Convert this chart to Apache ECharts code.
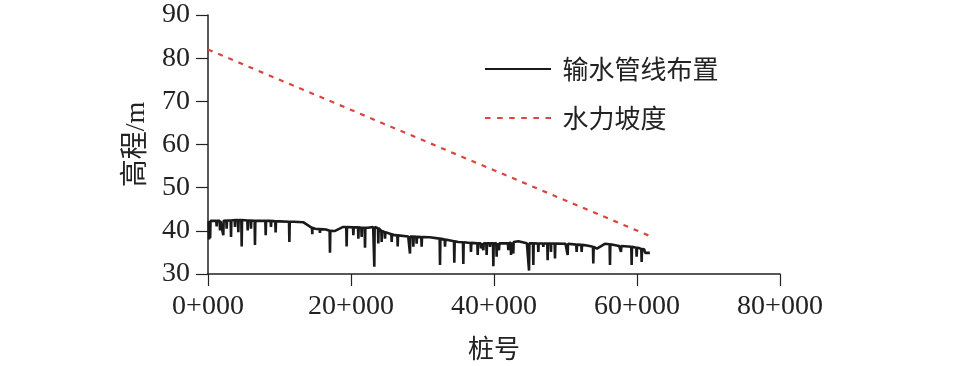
<!DOCTYPE html>
<html>
<head>
<meta charset="utf-8">
<script src="https://cdn.jsdelivr.net/npm/echarts@6/dist/echarts.min.js"></script>
<style>
html,body{margin:0;padding:0;background:#fff;}
#main{width:957px;height:366px;}
</style>
</head>
<body>
<div id="main"></div>
<script>
// Pipeline baseline vertices (station in m, elevation in m)
var baseStation = [100, 2000, 4200, 7000, 10000, 12000, 13300, 14600, 15000, 16500, 17700, 18900, 22400, 23100, 24500, 26100, 28000, 31000, 32400, 35000, 38000, 42000, 43400, 44600, 48000, 50000, 51500, 53000, 54400, 55500, 57500, 59200, 60300, 61000, 61150, 61800];
var baseElev    = [42.3, 42.3, 42.5, 42.3, 42.2, 42.1, 42.0, 40.7, 40.5, 40.3, 39.95, 40.9, 40.7, 40.9, 40.0, 39.0, 38.7, 38.5, 38.2, 37.4, 37.1, 37.1, 37.6, 37.1, 37.05, 37.0, 36.8, 36.6, 35.9, 37.0, 36.5, 36.3, 36.0, 35.7, 34.9, 34.9];
// Downward spikes: station, elevation at top, elevation at bottom
var spikeStation = [150, 300, 1210, 1680, 2140, 2610, 3220, 3780, 4240, 4710, 5550, 6010, 6570, 8070, 8810, 9460, 11380, 14590, 15660, 17060, 19390, 20330, 21030, 21490, 21960, 23260, 23820, 24290, 24760, 25690, 26530, 28250, 28720, 29180, 29880, 32450, 33150, 34450, 35710, 36780, 37720, 38180, 38510, 38970, 39440, 39910, 40370, 40700, 42000, 42380, 42700, 44900, 45500, 46200, 46900, 47500, 47970, 48530, 50300, 51560, 52260, 53890, 56220, 57760, 59250, 59950, 60650];
var spikeTop = [42.3, 42.3, 42.3, 42.3, 42.3, 42.4, 42.4, 42.5, 42.5, 42.5, 42.4, 42.4, 42.3, 42.3, 42.3, 42.2, 42.1, 40.7, 40.4, 40.0, 40.9, 40.8, 40.8, 40.7, 40.7, 40.9, 40.6, 40.0, 39.7, 39.2, 38.95, 38.7, 38.65, 38.6, 38.55, 38.2, 38.0, 37.6, 37.35, 37.2, 37.1, 37.1, 37.1, 37.1, 37.1, 37.1, 37.1, 37.1, 37.1, 37.3, 37.4, 37.1, 37.1, 37.05, 37.05, 37.05, 37.05, 37.05, 37.0, 36.8, 36.75, 36.3, 36.9, 36.5, 36.3, 36.1, 35.8];
var spikeLow = [38.0, 38.3, 41.0, 40.1, 39.0, 40.5, 38.6, 40.9, 39.7, 36.4, 40.1, 40.5, 36.7, 39.0, 40.9, 39.6, 37.4, 39.2, 39.5, 34.9, 36.4, 39.0, 38.2, 38.6, 36.1, 31.7, 37.1, 37.4, 38.2, 37.4, 36.4, 34.75, 36.3, 37.05, 36.3, 32.1, 36.3, 32.6, 32.3, 35.1, 34.4, 35.9, 35.5, 34.4, 36.3, 31.8, 34.0, 35.5, 35.5, 34.4, 34.75, 30.8, 32.1, 35.1, 36.3, 33.2, 35.1, 33.6, 34.4, 35.1, 35.1, 32.45, 32.1, 35.1, 32.1, 34.0, 32.8];
// Hydraulic gradient line
var gradeStation = [0, 61800];
var gradeElev = [82.0, 38.8];
// Axis ticks
var xTicks = [0, 20000, 40000, 60000, 80000];
var yTicks = [30, 40, 50, 60, 70, 80, 90];

var pipe = [];
baseStation.forEach(function(s, i){ pipe.push([s, baseElev[i]]); });
spikeStation.forEach(function(s, i){
  pipe.push([s - 50, spikeTop[i]]);
  pipe.push([s, spikeLow[i]]);
  pipe.push([s + 50, spikeTop[i]]);
});
pipe.sort(function(a, b){ return a[0] - b[0]; });
var grade = gradeStation.map(function(s, i){ return [s, gradeElev[i]]; });

var FONT = 'Liberation Serif';
var CJK = 'Noto Sans CJK SC';
var MIX = '"Liberation Serif", "Noto Sans CJK SC"';
var solidIcon = 'path://M0,0H60V2H0Z';
var dotIcon = 'path://M0,0H5V2H0Z M11,0H16V2H11Z M22,0H27V2H22Z M33,0H38V2H33Z M44,0H49V2H44Z M55,0H60V2H55Z';

var chart = echarts.init(document.getElementById('main'), null, {renderer: 'canvas'});
chart.setOption({
  animation: false,
  backgroundColor: '#fff',
  grid: {left: 208, right: 177, top: 15, bottom: 90},
  legend: {
    orient: 'vertical', left: 480, top: 50,
    itemWidth: 67, itemHeight: 2.2, itemGap: 21,
    textStyle: {fontFamily: CJK, fontSize: 26, color: '#222', lineHeight: 28, padding: [0, 0, 0, 6]},
    data: [
      {name: '输水管线布置', icon: solidIcon},
      {name: '水力坡度', icon: dotIcon}
    ]
  },
  xAxis: {
    type: 'value', min: xTicks[0], max: xTicks[xTicks.length - 1], interval: xTicks[1] - xTicks[0],
    name: '桩号', nameLocation: 'middle', nameGap: 61,
    nameTextStyle: {fontFamily: CJK, fontSize: 26, color: '#222'},
    axisLine: {lineStyle: {color: '#222', width: 1.5}},
    axisTick: {show: true, length: 12, lineStyle: {color: '#222', width: 1.2}},
    axisLabel: {margin: 19, fontFamily: FONT, fontSize: 28, color: '#222',
      formatter: function(v){ return (v / 1000) + '+000'; }},
    splitLine: {show: false}
  },
  yAxis: {
    type: 'value', min: yTicks[0], max: yTicks[yTicks.length - 1], interval: yTicks[1] - yTicks[0],
    name: '高程/m', nameLocation: 'middle', nameGap: 55, nameRotate: 90,
    nameTextStyle: {fontFamily: MIX, fontSize: 28, color: '#222'},
    axisLine: {show: true, lineStyle: {color: '#222', width: 1.5}},
    axisTick: {show: true, length: 12, lineStyle: {color: '#222', width: 1.2}},
    axisLabel: {margin: 18, fontFamily: FONT, fontSize: 28, color: '#222'},
    splitLine: {show: false}
  },
  series: [
    {
      name: '输水管线布置', type: 'line', data: pipe, symbol: 'none', showSymbol: false,
      lineStyle: {color: '#1a1a1a', width: 2.6}, itemStyle: {color: '#1a1a1a'}
    },
    {
      name: '水力坡度', type: 'line', data: grade, symbol: 'none', showSymbol: false,
      lineStyle: {color: '#d9453d', width: 2.2, type: [5, 6]}, itemStyle: {color: '#d9453d'}
    }
  ]
});
</script>
</body>
</html>
